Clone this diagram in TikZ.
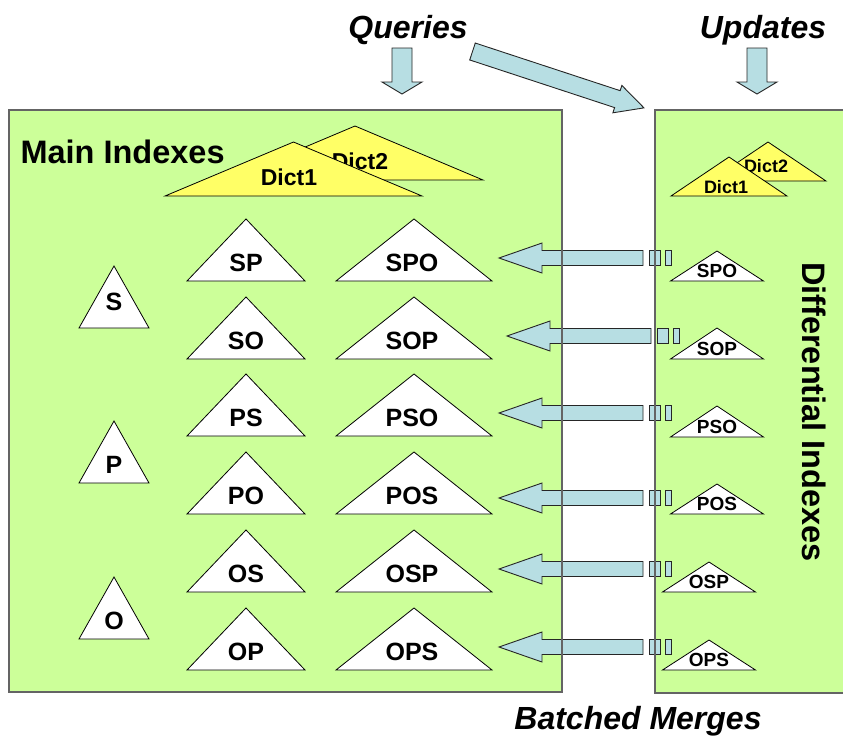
\documentclass[tikz,border=0pt]{standalone}
\usepackage{fontspec}
\setmainfont{Liberation Sans}
\usepackage{tikz}

\definecolor{boxgreen}{RGB}{204,255,153}
\definecolor{arrowblue}{RGB}{183,222,227}
\definecolor{dictyellow}{RGB}{255,255,102}
\definecolor{boxgray}{RGB}{100,100,100}

\newcommand{\setfs}[1]{\fontsize{#1}{#1}\selectfont}
% triangle: style, centre x, base y, half width, height
\newcommand{\idxtri}[5][tri]{%
  \filldraw[#1] ({#2-#4},#3) -- (#2,{#3-#5}) -- ({#2+#4},#3) -- cycle;}

\tikzset{
  tri/.style={draw=black,fill=white,line width=0.8pt},
  dict/.style={tri,fill=dictyellow},
  panel/.style={draw=boxgray,line width=1.3pt},
  blockarr/.style={draw=black!85,fill=arrowblue,line width=0.9pt},
  heading/.style={font=\setfs{32}\bfseries\itshape},
  boxtitle/.style={font=\setfs{32.5}\bfseries},
  biglab/.style={font=\setfs{25}\bfseries,inner sep=0pt},
  smalllab/.style={font=\setfs{19}\bfseries,inner sep=0pt},
}

\begin{document}
\begin{tikzpicture}[x=1pt,y=-1pt]
\clip (0,0) rectangle (843,742);
\fill[white] (0,0) rectangle (843,742);

% the two index panels
\fill[boxgreen] (9,110) rectangle (562,692);
\fill[boxgreen] (655,110) rectangle (860,693);

% headings
\node[heading] (queries) at (408,30) {Queries};
\node[heading] (updates) at (763,30) {Updates};
\node[heading] (merges) at (638,721) {Batched Merges};
\node[boxtitle,anchor=west] (mainidx) at (17,152) {Main Indexes};
\node[boxtitle,rotate=-90] (diffidx) at (814,412) {Differential Indexes};

% incoming arrows
\filldraw[blockarr] (392,48) -- (412,48) -- (412,82) -- (422,82) -- (402,94)
  -- (382,82) -- (392,82) -- cycle;
\filldraw[blockarr] (747,48) -- (767,48) -- (767,82) -- (777,82) -- (757,94)
  -- (737,82) -- (747,82) -- cycle;
\begin{scope}[shift={(472.5,51.5)},rotate=-18.2]
\filldraw[blockarr] (0,-8.9) -- (152.5,-8.9) -- (152.5,-14.4) -- (180.5,0)
  -- (152.5,14.4) -- (152.5,8.9) -- (0,8.9) -- cycle;
\end{scope}

% dictionaries
\idxtri[dict]{355}{180}{128}{54}
\node[smalllab,font=\setfs{23}\bfseries] (mdict2) at (360,161) {Dict2};
\idxtri[dict]{293.5}{196}{128.5}{54}
\node[smalllab,font=\setfs{23}\bfseries] (mdict1) at (289,177) {Dict1};
\idxtri[dict]{768}{181}{58}{39}
\node[smalllab,font=\setfs{18}\bfseries] (ddict2) at (766,166) {Dict2};
\idxtri[dict]{729}{196}{58}{39}
\node[smalllab,font=\setfs{18}\bfseries] (ddict1) at (726,187) {Dict1};

% single-position indexes
\foreach \lab/\b/\ty in {S/328/302, P/483/465, O/639/621}{
  \idxtri{114}{\b}{35}{62}
  \node[biglab] (m\lab) at (114,\ty) {\lab};
}

% main indexes, two and three positions
\foreach \two/\three/\b in {SP/SPO/281, SO/SOP/359, PS/PSO/436,
                            PO/POS/514, OS/OSP/592, OP/OPS/670}{
  \idxtri{246}{\b}{59}{62}
  \node[biglab] (m\two) at (246,\b-18) {\two};
  \idxtri{414}{\b}{78}{62}
  \node[biglab] (m\three) at (412,\b-18) {\three};
}

% differential indexes
\foreach \lab/\cx/\b/\h in {SPO/717/281/30, SOP/717/359/31, PSO/717/437/31,
                            POS/717/514/30, OSP/709/592/30, OPS/709/670/30}{
  \idxtri{\cx}{\b}{46.5}{\h}
  \node[smalllab] (d\lab) at (\cx,\b-10) {\lab};
}

% merge arrows
\foreach \y/\dx in {258/0, 336/8, 413/0, 498/0, 569/0, 647/0}{
  \filldraw[blockarr] (499+\dx,\y) -- (542+\dx,\y-15) -- (542+\dx,\y-7.5)
    -- (643+\dx,\y-7.5) -- (643+\dx,\y+7.5) -- (542+\dx,\y+7.5)
    -- (542+\dx,\y+15) -- cycle;
  \filldraw[blockarr] (649+\dx,\y-7.5) rectangle (660+\dx,\y+7.5);
  \filldraw[blockarr] (665+\dx,\y-7.5) rectangle (671+\dx,\y+7.5);
}

% panel outlines
\draw[panel] (9,110) rectangle (562,692);
\draw[panel] (655,110) rectangle (860,693);
\end{tikzpicture}
\end{document}
